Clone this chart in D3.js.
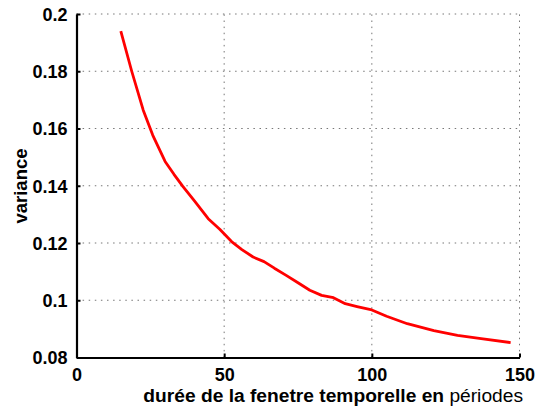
<html>
<head>
<meta charset="utf-8">
<title>variance</title>
<style>
  body { margin: 0; background: #fff; }
  text { font-family: "Liberation Sans", Arial, Helvetica, sans-serif; }
</style>
</head>
<body>
<div id="chart"></div>
<script src="https://d3js.org/d3.v7.min.js"></script>
<script type="text/javascript">

// window length (periods) and variance
var duree = [15, 18.7, 22.6, 25.8, 30, 33, 36, 40, 44.6, 48.5, 52.5, 56, 59.8, 63.5, 67, 71, 75, 79, 83, 87, 91, 95, 100, 105, 112, 121, 129, 137, 147];
var variance = [0.194, 0.180, 0.1664, 0.1577, 0.1485, 0.1440, 0.1398, 0.1346, 0.1285, 0.1248, 0.1205, 0.1177, 0.1151, 0.1135, 0.1112, 0.1087, 0.1061, 0.1035, 0.1017, 0.1009, 0.0988, 0.0978, 0.0966, 0.0944, 0.0918, 0.0894, 0.0877, 0.0866, 0.0852];

var xTicks = [0, 50, 100, 150];
var yTicks = [0.08, 0.1, 0.12, 0.14, 0.16, 0.18, 0.2];
var yTickLabels = ["0.08", "0.1", "0.12", "0.14", "0.16", "0.18", "0.2"];

var width = 536, height = 407;
var pLeft = 76.5, pRight = 519.5, pTop = 14, pBottom = 357.5;

var svg = d3.select("#chart").append("svg")
    .attr("width", width)
    .attr("height", height);

var x = d3.scaleLinear().domain([0, 150]).range([pLeft, pRight]);
var y = d3.scaleLinear().domain([0.08, 0.2]).range([pBottom, pTop]);

// dotted grid
var grid = svg.append("g")
    .attr("stroke", "#777")
    .attr("stroke-width", 1)
    .attr("stroke-dasharray", "1.5,4.6");

grid.selectAll("line.gx")
    .data(xTicks.slice(1))
    .enter()
    .append("line")
        .attr("x1", function(d) { return x(d); })
        .attr("x2", function(d) { return x(d); })
        .attr("y1", pBottom)
        .attr("y2", pTop);

grid.selectAll("line.gy")
    .data(yTicks.slice(1))
    .enter()
    .append("line")
        .attr("x1", pLeft)
        .attr("x2", pRight)
        .attr("y1", function(d) { return y(d); })
        .attr("y2", function(d) { return y(d); });

// axes
var xAxis = d3.axisBottom(x)
    .tickValues(xTicks)
    .tickSizeInner(-4)
    .tickSizeOuter(0)
    .tickPadding(11)
    .tickFormat(d3.format("d"));

var yAxis = d3.axisLeft(y)
    .tickValues(yTicks)
    .tickSizeInner(-4)
    .tickSizeOuter(0)
    .tickPadding(9)
    .tickFormat(function(d, i) { return yTickLabels[i]; });

var gx = svg.append("g")
    .attr("transform", "translate(0," + pBottom + ")")
    .call(xAxis);

var gy = svg.append("g")
    .attr("transform", "translate(" + pLeft + ",0)")
    .call(yAxis);

[gx, gy].forEach(function(g) {
    g.select(".domain").attr("stroke", "#000").attr("stroke-width", 2.2);
    g.selectAll(".tick line").attr("stroke", "#000").attr("stroke-width", 2);
    g.selectAll(".tick text")
        .attr("fill", "#000")
        .style("font-size", "18px")
        .style("font-weight", "bold");
});
gy.selectAll(".tick text").attr("dy", "0.36em");

// curve
var line = d3.line()
    .x(function(d, i) { return x(duree[i]); })
    .y(function(d) { return y(d); });

svg.append("path")
    .datum(variance)
    .attr("fill", "none")
    .attr("stroke", "#ff0000")
    .attr("stroke-width", 2.8)
    .attr("stroke-linejoin", "round")
    .attr("d", line);

// axis labels
var xl = svg.append("text")
    .attr("x", 523)
    .attr("y", 401.5)
    .attr("text-anchor", "end")
    .style("font-size", "19.2px");
xl.append("tspan").style("font-weight", "bold").text("durée de la fenetre temporelle en ");
xl.append("tspan").text("périodes");

svg.append("text")
    .attr("transform", "translate(27,186) rotate(-90)")
    .attr("text-anchor", "middle")
    .style("font-size", "18.5px")
    .style("font-weight", "bold")
    .text("variance");

</script>
</body>
</html>
